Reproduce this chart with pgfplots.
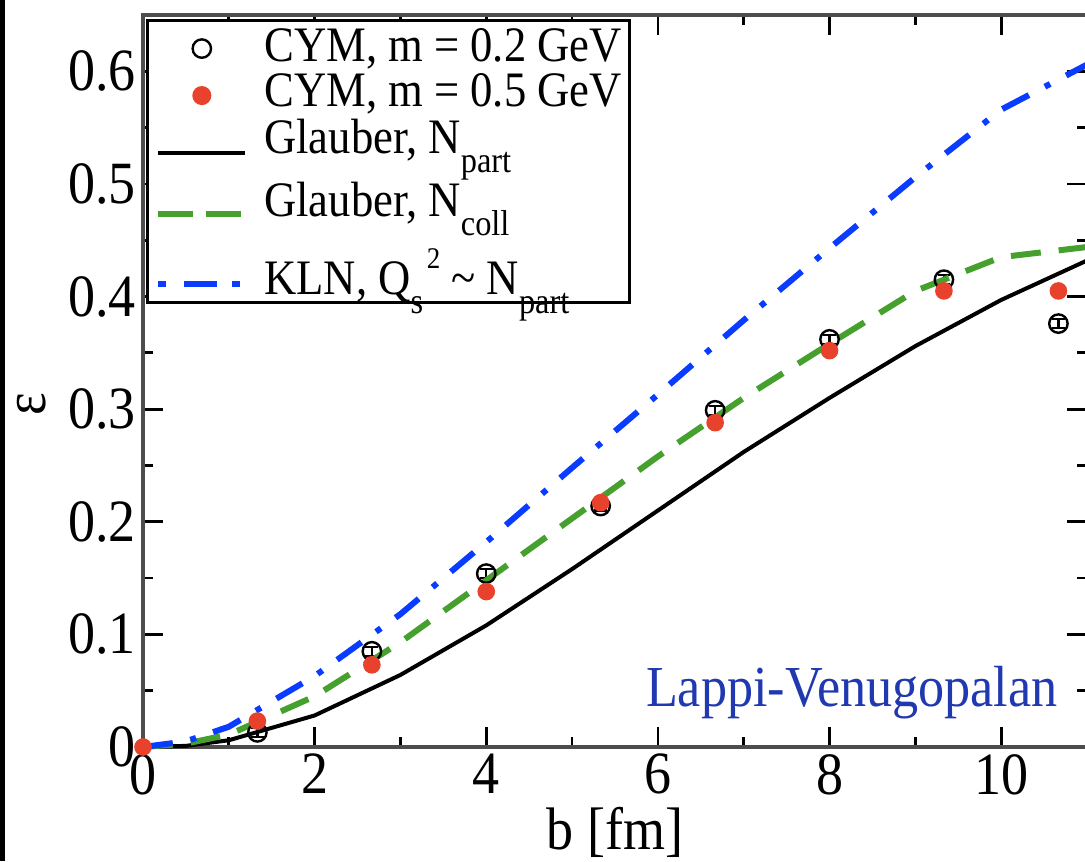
\documentclass[border=0pt]{standalone}
\usepackage{fontspec}
\setmainfont{Liberation Serif}[FakeStretch=0.9]
\usepackage{pgfplots}
\pgfplotsset{compat=1.18}

\definecolor{cymred}{HTML}{E8412C}
\definecolor{glgreen}{HTML}{46A02E}
\definecolor{klnblue}{HTML}{0A3CFF}
\definecolor{lvblue}{HTML}{2038B0}
\definecolor{framegray}{HTML}{4D4D4D}

% sub- and superscripts in the legend
\newcommand\lsub[1]{\raisebox{-4.7pt}[0pt][0pt]{\fontsize{9}{9}\selectfont #1}}
\newcommand\lsup[1]{\raisebox{6.5pt}[0pt][0pt]{\fontsize{7.5}{7.5}\selectfont #1}}

% legend pictograms (argument: vertical offset from the text baseline)
\pgfplotsset{
  markleg/.style={legend image code/.code={\draw[##1] plot coordinates {(10.875pt,#1)};}},
  solidleg/.style={legend image code/.code={\draw[##1] (0pt,#1) -- (21.75pt,#1);}},
  dashleg/.style={legend image code/.code={\draw[##1, dash pattern=on 8.75pt off 3.25pt] (0pt,#1) -- (21.75pt,#1);}},
  dotdashleg/.style={legend image code/.code={\draw[##1, dash pattern=on 2pt off 4.5pt on 8.25pt off 3.75pt on 2pt off 10pt] (0pt,#1) -- (21.75pt,#1);}},
}

% CYM eccentricities (b, eps, error)
\pgfplotstableread{
b      eps    e
1.333  0.013  0.004
2.667  0.085  0.004
4.000  0.154  0.004
5.333  0.214  0.004
6.667  0.299  0.004
8.000  0.362  0.004
9.333  0.415  0.004
10.667 0.376  0.004
}\cymlow
\pgfplotstableread{
b      eps    e
0.000  0.000  0.000
1.333  0.023  0.004
2.667  0.073  0.004
4.000  0.138  0.004
5.333  0.217  0.004
6.667  0.288  0.004
8.000  0.352  0.004
9.333  0.405  0.004
10.667 0.405  0.004
}\cymhigh
% Glauber and KLN curves
\pgfplotstableread{
b    npart  ncoll  kln
0    0.000  0.000  0.000
0.5  0.001  0.003  0.005
1    0.006  0.011  0.018
2    0.028  0.045  0.063
3    0.064  0.093  0.118
4    0.108  0.148  0.182
5    0.158  0.203  0.248
6    0.210  0.258  0.313
7    0.262  0.310  0.379
8    0.310  0.358  0.443
9    0.356  0.405  0.506
10   0.397  0.435  0.566
11   0.432  0.444  0.606
}\curves

\begin{document}
\begin{tikzpicture}
\useasboundingbox (0,0) rectangle (271.25pt,215.25pt);
\clip (0,0) rectangle (271.25pt,215.25pt);
\fill[black] (0,0) rectangle (1.25pt,215.25pt);
\begin{axis}[
  at={(35.75pt,28.5pt)}, anchor=south west,
  scale only axis, width=236pt, height=183pt,
  xmin=0, xmax=11, ymin=0, ymax=0.65,
  clip=false,
  xtick={0,2,...,10}, minor x tick num=1,
  ytick={0,0.1,0.2,0.3,0.4,0.5,0.6},
  yticklabels={0,0.1,0.2,0.3,0.4,0.5,0.6},
  minor y tick num=1,
  tick align=inside,
  major tick length=5pt, minor tick length=2.5pt,
  every tick/.style={black, line width=0.7pt},
  axis line style={framegray, line width=1pt},
  /pgf/number format/assume math mode=true,
  tick label style={font=\fontsize{15}{18}\selectfont},
  xticklabel style={yshift=1.75pt},
  yticklabel style={xshift=1.75pt},
  label style={font=\fontsize{15}{18}\selectfont},
  xlabel={b [fm]}, ylabel={ε},
  x label style={at={(axis description cs:0.5,0)}, anchor=center, yshift=-21.25pt},
  y label style={at={(axis description cs:-0.1176,0.4686)}, anchor=center},
  legend style={at={(axis description cs:0.003,0.9945)}, anchor=north west,
    draw=black, line width=0.75pt, font=\fontsize{12.4}{14}\selectfont,
    inner xsep=2pt, inner ysep=1.25pt, row sep=0pt, column sep=4pt,
    nodes={inner xsep=0pt, inner ysep=0pt},
    cells={anchor=base west}},
]
\addplot[only marks, mark=o, black, mark size=2.3pt,
  mark options={line width=0.6pt}, markleg=3.25pt,
  error bars/.cd, y dir=both, y explicit,
  error bar style={line width=0.6pt},
  error mark options={rotate=90, mark size=1.6pt, line width=0.6pt}]
  table[x=b, y=eps, y error=e] {\cymlow};
\addlegendentry[text height=9pt, text depth=2.5pt]{CYM, m = 0.2 GeV}
\addplot[only marks, mark=*, cymred, mark size=2pt,
  mark options={draw=cymred, fill=cymred}, markleg=2.75pt,
  error bars/.cd, y dir=both, y explicit,
  error bar style={line width=0.6pt, cymred},
  error mark options={rotate=90, mark size=1.6pt, line width=0.6pt, cymred}]
  table[x=b, y=eps, y error=e] {\cymhigh};
\addlegendentry[text height=8.75pt, text depth=2.75pt]{CYM, m = 0.5 GeV}
\addplot[black, line width=1pt, solidleg=0.25pt]
  table[x=b, y=npart] {\curves};
\addlegendentry[text height=9pt, text depth=6.75pt]{Glauber, N\lsub{part}}
\addplot[glgreen, line width=1.5pt, dash pattern=on 7.5pt off 4.5pt, dashleg=0.75pt]
  table[x=b, y=ncoll] {\curves};
\addlegendentry[text height=9pt, text depth=7.5pt]{Glauber, N\lsub{coll}}
\addplot[klnblue, line width=1.5pt, dash pattern=on 7.5pt off 4.5pt on 1.5pt off 4.5pt, dotdashleg=2.75pt]
  table[x=b, y=kln] {\curves};
\addlegendentry[text height=12pt, text depth=0.75pt]{KLN, Q\lsub{s}\hspace{0.9pt}\lsup{2} \textasciitilde{} N\lsub{part}}
\node[anchor=base, text=lvblue, font=\fontsize{14.5}{17}\selectfont]
  at (axis cs:8.26,0.0356) {Lappi-Venugopalan};
\end{axis}
\end{tikzpicture}
\end{document}
